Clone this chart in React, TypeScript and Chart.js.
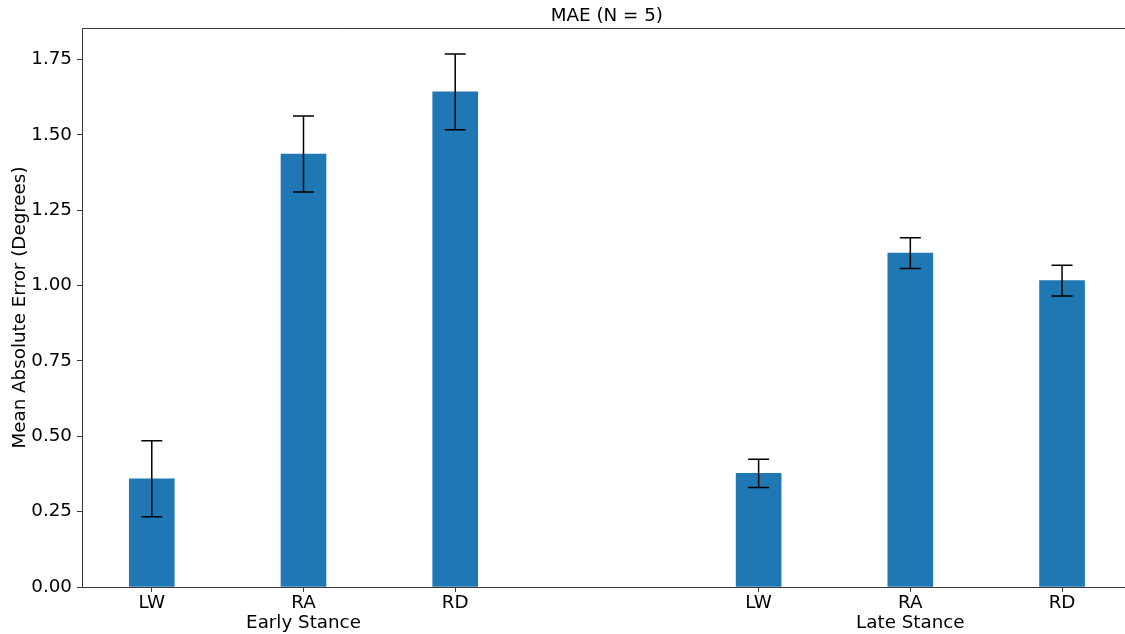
import React, { useEffect, useRef } from "react";
import { Chart, registerables } from "chart.js";

Chart.register(...registerables);

// ---- Data ----
const positions = [0, 1, 2, 4, 5, 6];
const barLabels = ["LW", "RA", "RD", "LW", "RA", "RD"];
const groupLabels: Record<number, string> = { 1: "Early Stance", 5: "Late Stance" };
const maeValues = [0.359, 1.437, 1.643, 0.377, 1.108, 1.017];
const errValues = [0.126, 0.126, 0.126, 0.047, 0.051, 0.051];
const yTicks = [0, 0.25, 0.5, 0.75, 1.0, 1.25, 1.5, 1.75];
const titleText = "MAE (N = 5)";
const yTitle = "Mean Absolute Error (Degrees)";

const FONT = "'DejaVu Sans', sans-serif";
const FS = 18.3;
const SPINE = "#3a3a3a";

const extrasPlugin = {
  id: "extras",
  afterDatasetsDraw(chart: any) {
    const ctx = chart.ctx;
    const xs = chart.scales.x;
    const ys = chart.scales.y;
    ctx.save();
    ctx.strokeStyle = "#000";
    ctx.lineWidth = 1.5;
    positions.forEach((p, i) => {
      const x = xs.getPixelForValue(p);
      const yt = ys.getPixelForValue(maeValues[i] + errValues[i]);
      const yb = ys.getPixelForValue(maeValues[i] - errValues[i]);
      ctx.beginPath();
      ctx.moveTo(x, yt);
      ctx.lineTo(x, yb);
      ctx.moveTo(x - 10.5, yt);
      ctx.lineTo(x + 10.5, yt);
      ctx.moveTo(x - 10.5, yb);
      ctx.lineTo(x + 10.5, yb);
      ctx.stroke();
    });
    ctx.restore();
  },
  afterDraw(chart: any) {
    const ctx = chart.ctx;
    const area = chart.chartArea;
    const xs = chart.scales.x;
    ctx.save();
    ctx.strokeStyle = SPINE;
    ctx.lineWidth = 1;
    ctx.beginPath();
    ctx.moveTo(area.left, Math.round(area.top) + 0.5);
    ctx.lineTo(area.right, Math.round(area.top) + 0.5);
    ctx.stroke();
    ctx.fillStyle = "#000";
    ctx.font = `${FS}px ${FONT}`;
    ctx.textAlign = "center";
    ctx.textBaseline = "middle";
    ctx.fillText(titleText, xs.getPixelForValue(3), 16);
    ctx.restore();
  },
};

export default function App() {
  const ref = useRef<HTMLCanvasElement>(null);
  useEffect(() => {
    if (!ref.current) return;
    const chart = new Chart(ref.current, {
      type: "bar",
      data: {
        datasets: [
          {
            data: positions.map((x, i) => ({ x, y: maeValues[i] })),
            backgroundColor: "#1f77b4",
            barThickness: 45,
            borderWidth: 0,
          },
        ],
      },
      options: {
        animation: false,
        responsive: false,
        devicePixelRatio: 1,
        layout: { padding: { top: 28, left: 0, right: 0, bottom: 0 } },
        plugins: {
          legend: { display: false },
          tooltip: { enabled: false },
          title: { display: false },
        },
        scales: {
          x: {
            type: "linear",
            offset: false,
            min: -0.46,
            max: 6.415,
            afterBuildTicks: (s: any) => {
              s.ticks = positions.map((v) => ({ value: v }));
            },
            afterFit: (s: any) => {
              s.height = 47;
            },
            grid: {
              display: true,
              offset: false,
              drawOnChartArea: false,
              drawTicks: true,
              tickLength: 5,
              color: SPINE,
            },
            border: { display: true, color: SPINE, width: 1 },
            ticks: {
              color: "#000",
              font: { family: FONT, size: FS, lineHeight: 1.1 },
              padding: 1,
              maxRotation: 0,
              autoSkip: false,
              callback: (v: any) => {
                const idx = positions.indexOf(v);
                if (idx < 0) return "";
                const g = groupLabels[v];
                return g ? [barLabels[idx], g] : barLabels[idx];
              },
            },
          },
          y: {
            min: 0,
            max: 1.855,
            afterBuildTicks: (s: any) => {
              s.ticks = yTicks.map((v) => ({ value: v }));
            },
            afterFit: (s: any) => {
              s.width = 82;
            },
            grid: {
              display: true,
              drawOnChartArea: false,
              drawTicks: true,
              tickLength: 5,
              color: SPINE,
            },
            border: { display: true, color: SPINE, width: 1 },
            ticks: {
              color: "#000",
              font: { family: FONT, size: FS },
              padding: 5,
              callback: (v: any) => Number(v).toFixed(2),
            },
            title: {
              display: true,
              text: yTitle,
              color: "#000",
              font: { family: FONT, size: FS },
              padding: { top: 9, bottom: 0 },
            },
          },
        },
      },
      plugins: [extrasPlugin],
    } as any);
    return () => chart.destroy();
  }, []);
  return (
    <canvas
      ref={ref}
      width={1125}
      height={634}
      style={{ position: "absolute", left: 0, top: 0, width: 1125, height: 634, display: "block" }}
    />
  );
}
